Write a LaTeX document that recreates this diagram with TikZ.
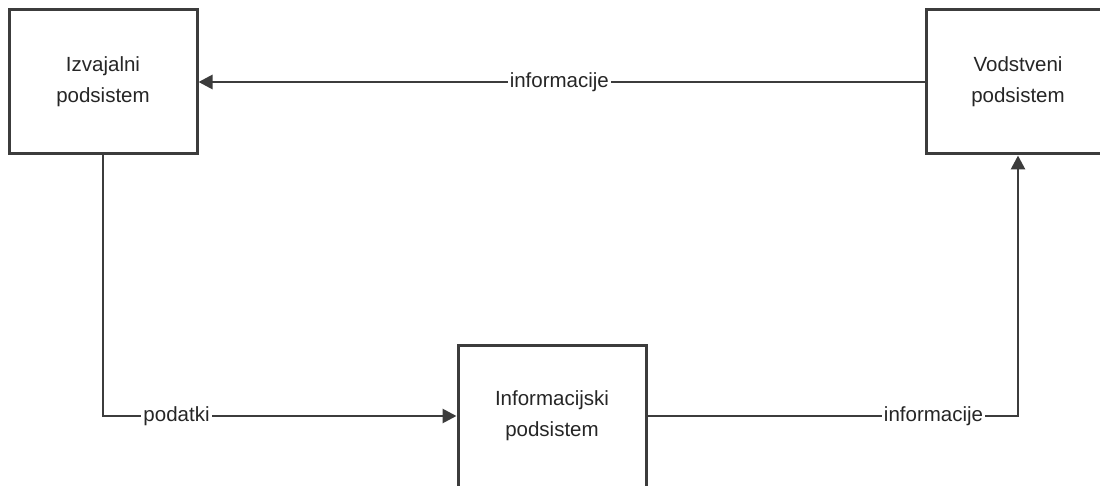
\documentclass[tikz,border=0pt]{standalone}
\usepackage{fontspec}
\setmainfont{Liberation Sans}
\usetikzlibrary{arrows.meta}
\definecolor{edge}{HTML}{3C3C3C}
\definecolor{ink}{HTML}{262626}
\begin{document}
\begin{tikzpicture}[x=1pt,y=-1pt,
  every node/.style={font=\fontsize{20.5}{31}\selectfont, text=ink},
  sysbox/.style={draw=edge, line width=3pt, fill=white, align=center,
                 inner sep=0pt},
  flow/.style={draw=edge, line width=2.8pt,
               -{Triangle[length=14pt,width=14pt]}},
  flowlabel/.style={fill=white, inner sep=2pt}]
  \useasboundingbox (0,0) rectangle (1100,486);

  % subsystems
  \node[sysbox, minimum width=188pt, minimum height=144pt] (izv) at (103,82)
    {Izvajalni\\podsistem};
  \node[sysbox, minimum width=184pt, minimum height=144pt] (vod) at (1018,82)
    {Vodstveni\\podsistem};
  \node[sysbox, minimum width=188pt, minimum height=142pt] (inf) at (552,416)
    {Informacijski\\podsistem};

  % information flows
  \draw[flow] (vod.west) -- node[flowlabel, pos=0.503] {informacije} (izv.east);
  \draw[flow] (izv.south) |- node[flowlabel, pos=0.604] {podatki} (inf.west);
  \draw[flow] (inf.east) -| node[flowlabel, pos=0.386] {informacije} (vod.south);
\end{tikzpicture}
\end{document}
